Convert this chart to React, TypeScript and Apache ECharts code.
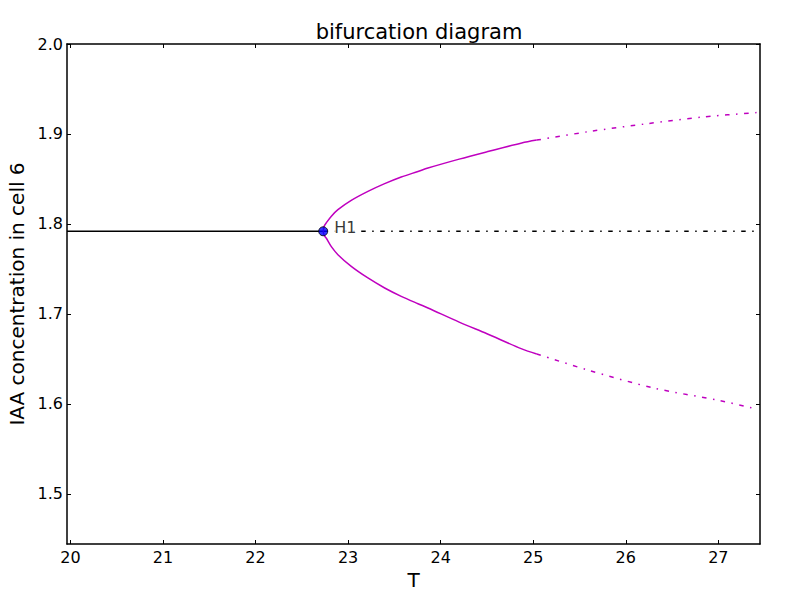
import React, { useEffect, useRef } from "react";
import * as echarts from "echarts";

const xTicks = [20, 21, 22, 23, 24, 25, 26, 27];
const yTicks = [1.5, 1.6, 1.7, 1.8, 1.9, 2.0];
const xMin = 19.963;
const xMax = 27.45;
const yMin = 1.4444;
const yMax = 2.0;

const hopfT = 22.731;
const hopfV = 1.7919;

const eqStable: [number, number][] = [
  [19.963, 1.7919],
  [22.731, 1.7919],
];
const eqUnstable: [number, number][] = [
  [22.731, 1.7919],
  [27.45, 1.7919],
];

const upperStable: [number, number][] = [
  [22.731, 1.7919],
  [22.741, 1.7975],
  [22.763, 1.8011],
  [22.817, 1.8084],
  [22.89, 1.8159],
  [23.034, 1.8262],
  [23.214, 1.8362],
  [23.395, 1.8448],
  [23.574, 1.8522],
  [23.755, 1.8584],
  [23.863, 1.8622],
  [24.2, 1.8721],
  [24.5, 1.8802],
  [24.876, 1.89],
  [25.038, 1.8932],
];
const upperUnstable: [number, number][] = [
  [25.038, 1.8932],
  [25.614, 1.9029],
  [26.227, 1.9114],
  [26.839, 1.9189],
  [27.434, 1.924],
];
const lowerStable: [number, number][] = [
  [22.731, 1.7919],
  [22.741, 1.7875],
  [22.763, 1.7844],
  [22.817, 1.7751],
  [22.89, 1.7659],
  [23.034, 1.7529],
  [23.214, 1.74],
  [23.395, 1.7289],
  [23.574, 1.7196],
  [23.755, 1.7114],
  [23.863, 1.7067],
  [24.2, 1.691],
  [24.5, 1.678],
  [24.876, 1.6612],
  [25.038, 1.6556],
];
const lowerUnstable: [number, number][] = [
  [25.038, 1.6556],
  [25.578, 1.6381],
  [26.298, 1.6178],
  [27.019, 1.6037],
  [27.398, 1.5948],
];

const FONT = "DejaVu Sans";
const MAGENTA = "#bf00bf";
const DASHDOT = [4.5, 6.5, 1.5, 6.5];

export default function App() {
  const ref = useRef<HTMLDivElement>(null);
  useEffect(() => {
    if (!ref.current) return;
    const chart = echarts.init(ref.current, null, { renderer: "svg" });
    const axisCommon = {
      type: "value" as const,
      axisLine: { show: true, onZero: false, lineStyle: { color: "#000", width: 1.5 } },
      splitLine: { show: false },
    };
    const tick = (vals: number[]) => ({
      show: true,
      inside: true,
      length: 4,
      customValues: vals,
      lineStyle: { color: "#000" },
    });
    chart.setOption({
      animation: false,
      backgroundColor: "#fff",
      title: {
        text: "bifurcation diagram",
        left: 414,
        top: 16,
        textAlign: "center",
        textStyle: { fontFamily: FONT, fontSize: 21, fontWeight: "normal", color: "#000" },
      },
      grid: { left: 67, right: 29, top: 44, bottom: 51, outerBoundsMode: "none", containLabel: false },
      xAxis: [
        {
          ...axisCommon,
          position: "bottom",
          min: xMin,
          max: xMax,
          name: "T",
          nameLocation: "middle",
          nameGap: 21,
          nameTextStyle: { fontFamily: FONT, fontSize: 20, color: "#000" },
          axisTick: tick(xTicks),
          axisLabel: { show: true, customValues: xTicks, margin: 5, fontFamily: FONT, fontSize: 16, color: "#000" },
        },
        {
          ...axisCommon,
          position: "top",
          min: xMin,
          max: xMax,
          axisTick: tick(xTicks),
          axisLabel: { show: false },
        },
      ],
      yAxis: [
        {
          ...axisCommon,
          position: "left",
          min: yMin,
          max: yMax,
          name: "IAA concentration in cell 6",
          nameLocation: "middle",
          nameGap: 33,
          nameTextStyle: { fontFamily: FONT, fontSize: 20, color: "#000" },
          axisTick: tick(yTicks),
          axisLabel: {
            show: true,
            customValues: yTicks,
            margin: 4,
            fontFamily: FONT,
            fontSize: 16,
            color: "#000",
            formatter: (v: number) => v.toFixed(1),
          },
        },
        {
          ...axisCommon,
          position: "right",
          min: yMin,
          max: yMax,
          axisTick: tick(yTicks),
          axisLabel: { show: false },
        },
      ],
      series: [
        {
          type: "line",
          data: eqStable,
          showSymbol: false,
          lineStyle: { color: "#000", width: 1.5 },
        },
        {
          type: "line",
          data: eqUnstable,
          showSymbol: false,
          lineStyle: { color: "#000", width: 1.5, type: DASHDOT },
        },
        {
          type: "line",
          data: upperStable,
          showSymbol: false,
          smooth: 0.3,
          lineStyle: { color: MAGENTA, width: 1.5 },
        },
        {
          type: "line",
          data: upperUnstable,
          showSymbol: false,
          smooth: 0.3,
          lineStyle: { color: MAGENTA, width: 1.5, type: DASHDOT },
        },
        {
          type: "line",
          data: lowerStable,
          showSymbol: false,
          smooth: 0.3,
          lineStyle: { color: MAGENTA, width: 1.5 },
        },
        {
          type: "line",
          data: lowerUnstable,
          showSymbol: false,
          smooth: 0.3,
          lineStyle: { color: MAGENTA, width: 1.5, type: DASHDOT },
        },
        {
          type: "scatter",
          data: [[hopfT, hopfV]],
          symbol: "circle",
          symbolSize: 9,
          itemStyle: { color: "#0000ff", borderColor: "#000", borderWidth: 1 },
          label: {
            show: true,
            position: "right",
            distance: 5,
            offset: [0, -4],
            formatter: "H1",
            fontFamily: FONT,
            fontSize: 16,
            color: "#000",
            backgroundColor: "#fff",
            padding: [0, 3, 1, 1],
          },
          z: 10,
        },
      ],
    });
    return () => chart.dispose();
  }, []);
  return <div ref={ref} style={{ width: 789, height: 595, position: "absolute", left: 0, top: 0 }} />;
}
